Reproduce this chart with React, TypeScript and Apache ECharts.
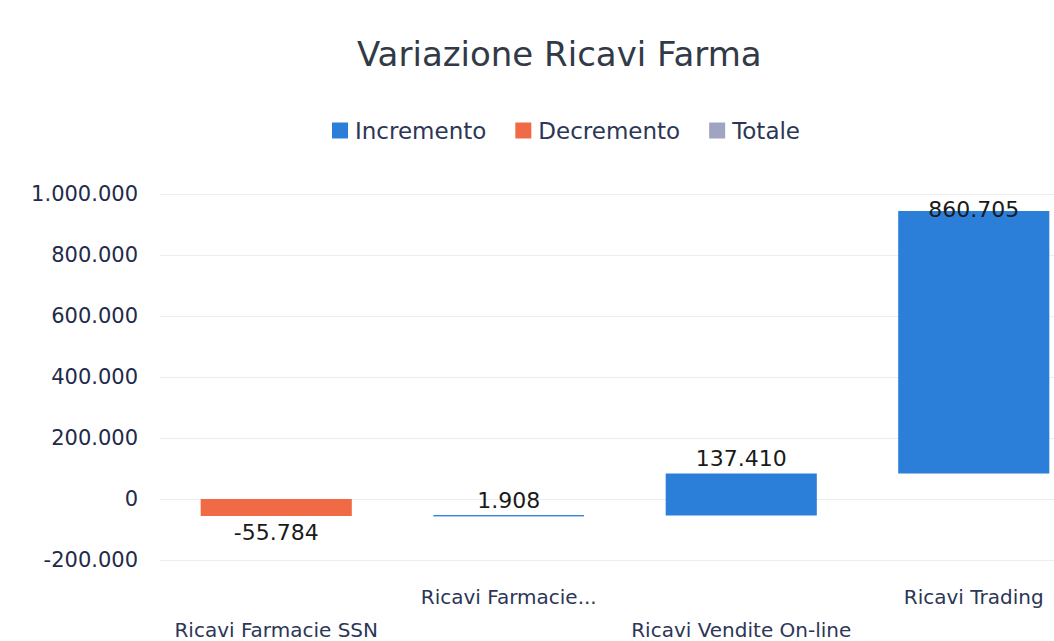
import React, { useEffect, useRef } from "react";
import * as echarts from "echarts";

const categories = ["Ricavi Farmacie SSN", "Ricavi Farmacie...", "Ricavi Vendite On-line", "Ricavi Trading"];
const deltas = [-55784, 1908, 137410, 860705];
const yTicks = [-200000, 0, 200000, 400000, 600000, 800000, 1000000];

const fmt = (v: number) => {
  const s = Math.abs(Math.round(v)).toString().replace(/\B(?=(\d{3})+(?!\d))/g, ".");
  return (v < 0 ? "-" : "") + s;
};

export default function App() {
  const ref = useRef<HTMLDivElement>(null);
  useEffect(() => {
    if (!ref.current) return;
    const chart = echarts.init(ref.current, undefined, { renderer: "svg" });
    const base: number[] = [];
    const inc: number[] = [];
    const dec: number[] = [];
    let cum = 0;
    deltas.forEach((d) => {
      base.push(cum);
      inc.push(d >= 0 ? d : 0);
      dec.push(d < 0 ? d : 0);
      cum += d;
    });
    const font = "'DejaVu Sans', sans-serif";
    const blue = "#2b7fd9";
    const labelFmt = (p: any) => (p.value === 0 ? "" : fmt(p.value));
    chart.setOption({
      animation: false,
      backgroundColor: "#ffffff",
      title: {
        text: "Variazione Ricavi Farma",
        left: 352,
        top: 32,
        textStyle: { fontFamily: font, fontSize: 34, fontWeight: "normal", color: "#313a46" },
      },
      legend: {
        top: 114,
        left: 327,
        itemWidth: 16,
        itemHeight: 16,
        itemGap: 29,
        icon: "rect",
        data: ["Incremento", "Decremento", "Totale"],
        textStyle: { fontFamily: font, fontSize: 23, color: "#2c3656", padding: [0, 0, 0, 2] },
      },
      grid: { left: 160, top: 194, width: 930, height: 366, containLabel: false, outerBoundsMode: "none" },
      xAxis: {
        type: "category",
        data: categories,
        axisLine: { show: false },
        axisTick: { show: false },
        axisLabel: {
          interval: 0,
          margin: 20,
          fontFamily: font,
          fontSize: 20,
          color: "#2c3656",
          lineHeight: 33,
          formatter: (v: string, i: number) => (i % 2 === 0 ? "\n" + v : v),
        },
      },
      yAxis: {
        type: "value",
        min: yTicks[0],
        max: yTicks[yTicks.length - 1],
        interval: 200000,
        axisLabel: {
          fontFamily: font,
          fontSize: 21,
          color: "#1f2b4a",
          margin: 22,
          formatter: (v: number) => fmt(v),
        },
        splitLine: { lineStyle: { color: "#ececec", width: 1 } },
        axisLine: { show: false },
        axisTick: { show: false },
      },
      series: [
        {
          name: "base",
          type: "bar",
          stack: "w",
          stackStrategy: "all",
          barWidth: "65%",
          itemStyle: { color: "transparent" },
          emphasis: { disabled: true },
          silent: true,
          data: base,
        },
        {
          name: "Incremento",
          type: "bar",
          stack: "w",
          stackStrategy: "all",
          barWidth: "65%",
          itemStyle: { color: blue },
          label: {
            show: true,
            position: "top",
            distance: 4,
            fontFamily: font,
            fontSize: 22,
            color: "#1a1a1a",
            formatter: labelFmt,
          },
          data: inc.map((v, i) => {
            if (i === inc.length - 1) return { value: v, label: { distance: -9 } };
            if (v > 0 && v < 10000) return { value: v, itemStyle: { borderColor: blue, borderWidth: 1 } };
            return v;
          }),
        },
        {
          name: "Decremento",
          type: "bar",
          stack: "w",
          stackStrategy: "all",
          barWidth: "65%",
          itemStyle: { color: "#f06b45" },
          label: {
            show: true,
            position: "bottom",
            distance: 5,
            fontFamily: font,
            fontSize: 22,
            color: "#1a1a1a",
            formatter: labelFmt,
          },
          data: dec,
        },
        {
          name: "Totale",
          type: "bar",
          stack: "w",
          stackStrategy: "all",
          barWidth: "65%",
          itemStyle: { color: "#9ea4c2" },
          data: [],
        },
      ],
    });
    return () => chart.dispose();
  }, []);
  return (
    <div
      ref={ref}
      style={{ position: "fixed", left: 0, top: 0, width: 1054, height: 641, background: "#fff" }}
    />
  );
}
